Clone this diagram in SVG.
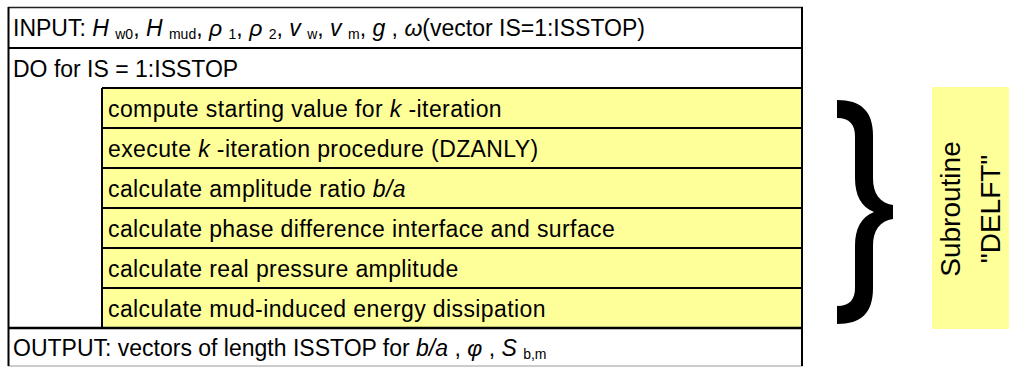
<svg xmlns="http://www.w3.org/2000/svg" width="1009" height="367" viewBox="0 0 1009 367">
  <style>
    text { font-family: "Liberation Sans", Arial, sans-serif; font-size: 23px; fill: #000; }
    .body { letter-spacing: 0.4px; }
    .i { font-style: italic; }
    .sub { font-size: 14px; font-style: normal; }
    .cell { fill: #ffffff; }
    .yellow { fill: #ffff99; }
    .rule { stroke: #000; stroke-width: 2; fill: none; }
    .label { font-size: 28px; text-anchor: middle; }
  </style>

  <!-- white background -->
  <rect x="0" y="0" width="1009" height="367" fill="#ffffff"/>

  <!-- INPUT row -->
  <g id="input">
    <rect class="cell" x="8" y="7" width="794" height="41"/>
    <text x="13" y="35.5">INPUT: <tspan class="i">H</tspan> <tspan class="sub" dy="3">w0</tspan><tspan dy="-3">, </tspan><tspan class="i">H</tspan> <tspan class="sub" dy="3">mud</tspan><tspan dy="-3">, </tspan><tspan class="i">ρ</tspan> <tspan class="sub" dy="3">1</tspan><tspan dy="-3">, </tspan><tspan class="i">ρ</tspan> <tspan class="sub" dy="3">2</tspan><tspan dy="-3">, </tspan><tspan class="i">v</tspan> <tspan class="sub" dy="3">w</tspan><tspan dy="-3">, </tspan><tspan class="i">v</tspan> <tspan class="sub" dy="3">m</tspan><tspan dy="-3">, </tspan><tspan class="i">g</tspan> , <tspan class="i">ω</tspan>(vector IS=1:ISSTOP)</text>
  </g>

  <!-- DO loop header -->
  <g id="loop">
    <rect class="cell" x="8" y="48" width="794" height="280"/>
    <text x="13" y="76.5">DO for IS = 1:ISSTOP</text>
  </g>

  <!-- loop body steps -->
  <g id="step1">
    <rect class="yellow" x="102" y="88" width="700" height="40"/>
    <text class="body" x="108" y="116.5">compute starting value for <tspan class="i">k</tspan> -iteration</text>
  </g>
  <g id="step2">
    <rect class="yellow" x="102" y="128" width="700" height="40"/>
    <text class="body" x="108" y="156.5">execute <tspan class="i">k</tspan> -iteration procedure (DZANLY)</text>
  </g>
  <g id="step3">
    <rect class="yellow" x="102" y="168" width="700" height="40"/>
    <text class="body" x="108" y="196.5">calculate amplitude ratio <tspan class="i">b/a</tspan></text>
  </g>
  <g id="step4">
    <rect class="yellow" x="102" y="208" width="700" height="40"/>
    <text class="body" x="108" y="236.5">calculate phase difference interface and surface</text>
  </g>
  <g id="step5">
    <rect class="yellow" x="102" y="248" width="700" height="40"/>
    <text class="body" x="108" y="276.5">calculate real pressure amplitude</text>
  </g>
  <g id="step6">
    <rect class="yellow" x="102" y="288" width="700" height="40"/>
    <text class="body" x="108" y="316.5">calculate mud-induced energy dissipation</text>
  </g>

  <!-- OUTPUT row -->
  <g id="output">
    <rect class="cell" x="8" y="328" width="794" height="38"/>
    <text x="13" y="356">OUTPUT: vectors of length ISSTOP for <tspan class="i">b/a</tspan> , <tspan class="i">φ</tspan> , <tspan class="i">S</tspan> <tspan class="sub" dy="3">b,m</tspan></text>
  </g>

  <!-- table rules -->
  <g id="rules">
    <line x1="8" y1="7.5" x2="803" y2="7.5" stroke="#222" stroke-width="1.6"/>
    <line class="rule" x1="8" y1="48" x2="803" y2="48"/>
    <line class="rule" x1="102" y1="88" x2="803" y2="88"/>
    <line class="rule" x1="102" y1="128" x2="803" y2="128"/>
    <line class="rule" x1="102" y1="168" x2="803" y2="168"/>
    <line class="rule" x1="102" y1="208" x2="803" y2="208"/>
    <line class="rule" x1="102" y1="248" x2="803" y2="248"/>
    <line class="rule" x1="102" y1="288" x2="803" y2="288"/>
    <line x1="8" y1="328" x2="803" y2="328" stroke="#000" stroke-width="2.6"/>
    <line x1="8" y1="366" x2="803" y2="366" stroke="#999" stroke-width="1.2"/>
    <line class="rule" x1="102" y1="88" x2="102" y2="328"/>
    <line class="rule" x1="8.5" y1="7" x2="8.5" y2="366"/>
    <line class="rule" x1="802" y1="7" x2="802" y2="366"/>
  </g>

  <!-- brace grouping the loop body -->
  <g id="connectors">
    <path fill="#000" d="M837,100 C861,100 873,111 873,136 L873,178 C873,194 880,203 893,205 L893,219 C880,221 873,230 873,246 L873,288 C873,313 861,324 837,324 L837,306 C850,306 855,299 855,288 L855,246 C855,229 861,217 874,212 C861,207 855,195 855,178 L855,136 C855,125 850,118 837,118 Z"/>
  </g>

  <!-- subroutine label -->
  <g id="subroutine">
    <rect class="yellow" x="932" y="87" width="77" height="242"/>
    <text class="label" transform="translate(960,209) rotate(-90)">Subroutine</text>
    <text class="label" transform="translate(1000,209) rotate(-90)">"DELFT"</text>
  </g>
</svg>
